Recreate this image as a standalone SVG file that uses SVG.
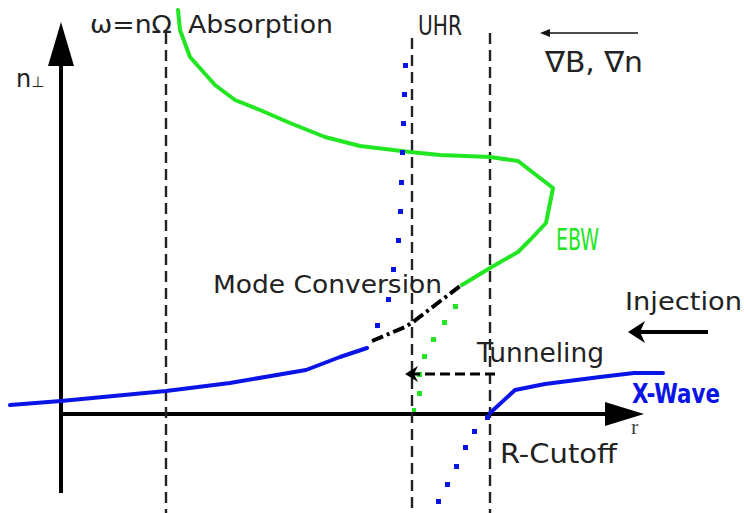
<svg xmlns="http://www.w3.org/2000/svg" width="744" height="513" viewBox="0 0 744 513">
<defs>
<style>
.ax{stroke:#000;stroke-width:4;fill:none}
.dash{stroke:#222;stroke-width:2.4;stroke-dasharray:11 6;fill:none}
.txt{font-family:"DejaVu Sans","Liberation Sans",sans-serif;fill:#222}
.cond{font-family:"DejaVu Sans Condensed","Liberation Sans",sans-serif}
.green{stroke:#22e622;stroke-width:4;fill:none;stroke-linejoin:round;stroke-linecap:round}
.blue{stroke:#0a14e6;stroke-width:4;fill:none;stroke-linejoin:round;stroke-linecap:round}
.bdot{fill:#0a14e6}
.gdot{fill:#22e622}
</style>
</defs>
<rect width="744" height="513" fill="#fff"/>

<g id="axes">
<line class="ax" x1="61" y1="60" x2="61" y2="493"/>
<polygon points="61,22 48,66 74,66" fill="#000"/>
<line class="ax" x1="61" y1="414" x2="610" y2="414"/>
<polygon points="644,414 605,402 605,426" fill="#000"/>
<text class="txt" x="16" y="87" font-size="24">n<tspan font-size="15">⊥</tspan></text>
<text x="631" y="434" font-size="22" font-family="Liberation Serif,serif" fill="#444">r</text>
</g>

<g id="resonances">
<line class="dash" x1="166" y1="33" x2="166" y2="513"/>
<line class="dash" x1="412" y1="38" x2="412" y2="513"/>
<line class="dash" x1="490" y1="33" x2="490" y2="513"/>
<text class="txt" x="90" y="33" font-size="25" textLength="82" lengthAdjust="spacingAndGlyphs">ω=nΩ</text>
<text class="txt" x="188" y="33" font-size="25" textLength="145" lengthAdjust="spacingAndGlyphs">Absorption</text>
<text class="txt cond" x="418" y="35" font-size="27" textLength="44" lengthAdjust="spacingAndGlyphs">UHR</text>
<text class="txt cond" x="500" y="463" font-size="27" textLength="117" lengthAdjust="spacingAndGlyphs">R-Cutoff</text>
</g>

<g id="gradient">
<line x1="638" y1="33" x2="546" y2="33" stroke="#111" stroke-width="1.6"/>
<polygon points="540,33 550,29 550,37" fill="#111"/>
<text class="txt cond" x="545" y="72" font-size="29" textLength="98" lengthAdjust="spacingAndGlyphs">∇B, ∇n</text>
</g>

<g id="ebw">
<path class="green" d="M178,10 L180,30 L190,57 L215,85 L235,100 L260,110 L290,123 L325,137 L360,146 L410,152 L440,155 L490,157 L518,161 L553,188 L546,223 L530,240 L518,252 L490,268 L462,285"/>
<text class="cond" x="556" y="250" font-size="30" fill="#22e622" textLength="43" lengthAdjust="spacingAndGlyphs">EBW</text>
<g class="gdot">
<rect x="453" y="304" width="5" height="5"/>
<rect x="442" y="320" width="5" height="5"/>
<rect x="431" y="337" width="5" height="5"/>
<rect x="422" y="354" width="5" height="5"/>
<rect x="417" y="372" width="5" height="5"/>
<rect x="417" y="391" width="5" height="5"/>
<rect x="412" y="408" width="4" height="4"/>
</g>
</g>

<g id="xwave">
<path class="blue" d="M10,405 L61,401 L166,391 L230,383 L306,370 L340,357 L367,348"/>
<path class="blue" d="M490,413 L515,390 L545,384 L600,377 L634,373 L663,373"/>
<text x="632" y="403" font-size="27" font-weight="bold" font-family="DejaVu Sans Condensed,Liberation Sans,sans-serif" fill="#0a14e6" textLength="88" lengthAdjust="spacingAndGlyphs">X-Wave</text>
<g class="bdot">
<rect x="403" y="63" width="5" height="5"/>
<rect x="402" y="92" width="5" height="5"/>
<rect x="401" y="121" width="5" height="5"/>
<rect x="400" y="150" width="5" height="5"/>
<rect x="399" y="180" width="5" height="5"/>
<rect x="398" y="209" width="5" height="5"/>
<rect x="396" y="238" width="5" height="5"/>
<rect x="391" y="267" width="5" height="5"/>
<rect x="386" y="297" width="5" height="5"/>
<rect x="375" y="323" width="5" height="5"/>
<rect x="485" y="415" width="5" height="5"/>
<rect x="472" y="429" width="5" height="5"/>
<rect x="463" y="445" width="5" height="5"/>
<rect x="454" y="464" width="5" height="5"/>
<rect x="445" y="482" width="5" height="5"/>
<rect x="436" y="499" width="5" height="5"/>
</g>
</g>

<g id="connectors">
<path d="M372,341 L405,327 L413,322 L460,286" stroke="#000" stroke-width="4" fill="none" stroke-dasharray="12 4 3 4"/>
<line x1="495" y1="374" x2="414" y2="374" stroke="#000" stroke-width="3" stroke-dasharray="10 5"/>
<path d="M405,374 L418,366 L414,374 L418,382 Z" fill="#000"/>
<line x1="708" y1="332" x2="640" y2="332" stroke="#000" stroke-width="4"/>
<path d="M628,332 L645,321 L640,332 L645,343 Z" fill="#000"/>
</g>

<g id="labels">
<text class="txt" x="213" y="293" font-size="24" textLength="229" lengthAdjust="spacingAndGlyphs">Mode Conversion</text>
<text class="txt" x="477" y="362" font-size="26" textLength="127" lengthAdjust="spacingAndGlyphs">Tunneling</text>
<text class="txt" x="625" y="310" font-size="25" textLength="117" lengthAdjust="spacingAndGlyphs">Injection</text>
</g>
</svg>
